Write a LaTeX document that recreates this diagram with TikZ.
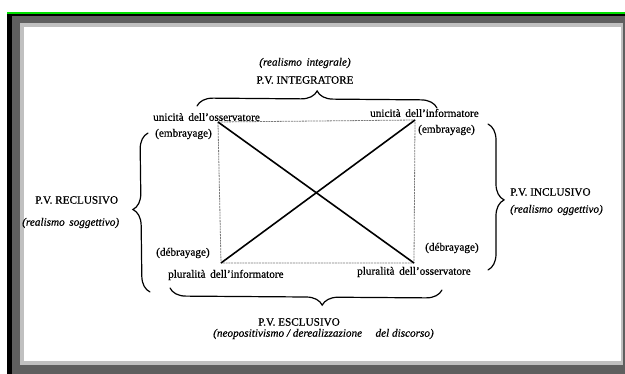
\documentclass[tikz,border=0pt]{standalone}
\usepackage{fontspec}
\setmainfont{Liberation Serif}[FakeBold=0.6]
\usetikzlibrary{decorations.pathreplacing}
\definecolor{frameDark}{HTML}{5F5F5F}
\definecolor{frameLight}{HTML}{C0C0C0}
\definecolor{frameGreen}{HTML}{00E000}
\definecolor{edgeGray}{HTML}{7A7A7A}
\begin{document}
\begin{tikzpicture}[x=1pt,y=-1pt,
  txt/.style={inner sep=0pt, font=\fontsize{11.2}{13}\selectfont},
  lbl/.style={txt, anchor=west},
  itl/.style={txt, font=\fontsize{11.2}{13}\selectfont\itshape},
  itlw/.style={itl, anchor=west},
  bracepath/.style={decorate, decoration={brace, amplitude=16pt, aspect=#1}, line width=1.2pt, line cap=round},
  diag/.style={line width=1.6pt},
  boxedge/.style={draw=edgeGray, line width=0.8pt, dash pattern=on 2pt off 0.8pt}]
\useasboundingbox (0,0) rectangle (625,374);
% window frame
\fill[white] (0,0) rectangle (625,374);
\fill[black] (7,12) rectangle (625,374);
\fill[frameGreen] (7,12) rectangle (625,13.6);
\fill[frameDark] (11.5,16) rectangle (625,374);
\fill[frameLight] (19.5,23.5) rectangle (623,365);
\fill[white] (23.5,27.5) rectangle (621,361);

% corners of the square
\coordinate (tl) at (218,122);
\coordinate (tr) at (415,120);
\coordinate (bl) at (221,263);
\coordinate (br) at (414,263);
\draw[boxedge] (tl) -- (tr) -- (br) -- (bl) -- cycle;
\draw[diag] (tl) -- (br);
\draw[diag] (bl) -- (tr);

% brace end points
\coordinate (topL) at (197,106);
\coordinate (topR) at (437,108);
\coordinate (lftT) at (148,133);
\coordinate (lftB) at (150,292);
\coordinate (rgtT) at (488,124);
\coordinate (rgtB) at (488,270);
\coordinate (botL) at (170,288);
\coordinate (botR) at (442,290);
\draw[bracepath=0.5] (topL) -- (topR);
\draw[bracepath=0.52] (lftB) -- (lftT);
\draw[bracepath=0.52] (rgtT) -- (rgtB);
\draw[bracepath=0.44] (botR) -- (botL);

% corner labels
\node[lbl] (uoss) at (153,117) {unicità\, dell'osservatore};
\node[lbl] (embL) at (155,134) {(embrayage)};
\node[lbl] (uinf) at (370,113) {unicità\, dell'informatore};
\node[lbl] (embR) at (418,130) {(embrayage)};
\node[lbl] (debL) at (156,253) {(débrayage)};
\node[lbl] (plinf) at (168,275) {pluralità\, dell'informatore};
\node[lbl] (debR) at (425,248) {(débrayage)};
\node[lbl] (ploss) at (357,272) {pluralità\, dell'osservatore};

% side titles
\node[itl] (realint) at (305,63) {(realismo\, integrale)};
\node[txt] (pvint) at (305,80) {P.V. INTEGRATORE};
\node[lbl] (pvrec) at (35,200) {P.V. RECLUSIVO};
\node[itlw] (realsog) at (22,223) {(realismo\, soggettivo)};
\node[lbl] (pvinc) at (510,192) {P.V. INCLUSIVO};
\node[itlw] (realogg) at (510,210) {(realismo\, oggettivo)};
\node[txt] (pvesc) at (299,322) {P.V. ESCLUSIVO};
\node[itlw] (neopos) at (213,334) {(neopositivismo / derealizzazione\hspace{1.2em}del discorso)};
\end{tikzpicture}
\end{document}
